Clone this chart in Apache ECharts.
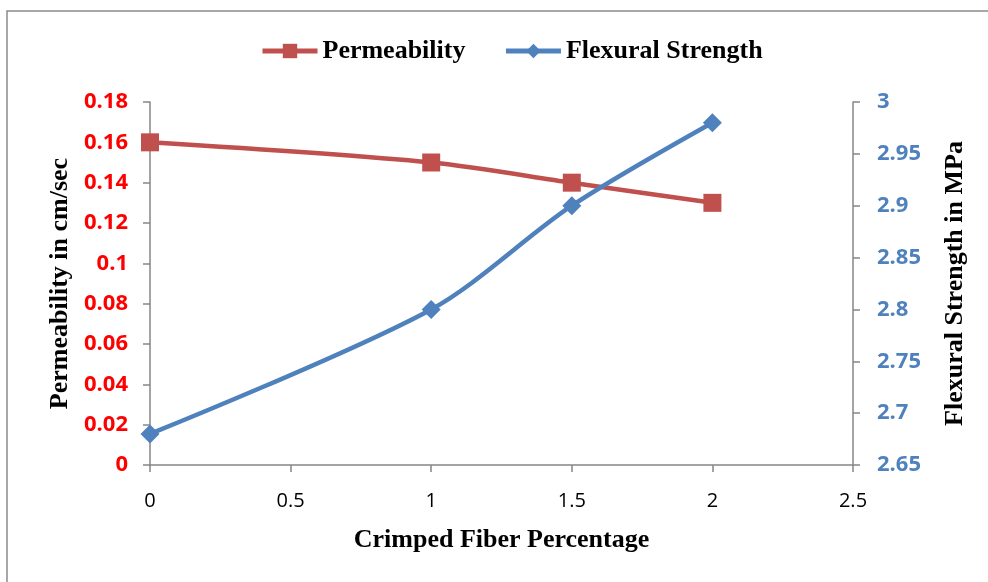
<!DOCTYPE html>
<html>
<head>
<meta charset="utf-8">
<script src="https://cdn.jsdelivr.net/npm/echarts@6/dist/echarts.min.js"></script>
<style>
  html, body { margin: 0; padding: 0; background: #fff; }
  #chart { width: 988px; height: 582px; }
</style>
</head>
<body>
<div id="chart"></div>
<script>
// fiber percentage (x) and the two measured series
const fiberPct = [0, 1, 1.5, 2];
const permeability = [0.16, 0.15, 0.14, 0.13];
const flexural = [2.68, 2.8, 2.9, 2.98];

const redColor = "#C0504D";
const blueColor = "#4F81BD";
const axisGray = "#868686";
const serif = "'Liberation Serif', 'Times New Roman', serif";
const sans = "'Open Sans', 'Noto Sans', sans-serif";

const chart = echarts.init(document.getElementById("chart"));

const option = {
  backgroundColor: "#fff",
  animation: false,
  graphic: [
    {
      type: "rect",
      shape: { x: 7, y: 11, width: 1000, height: 600 },
      style: { fill: "none", stroke: "#8a8a8a", lineWidth: 1.5 },
      silent: true
    }
  ],
  legend: {
    top: 33,
    left: 255,
    itemWidth: 55,
    itemHeight: 18,
    itemGap: 38,
    lineStyle: { width: 5 },
    textStyle: { fontFamily: serif, fontWeight: "bold", fontSize: 26, color: "#000" },
    data: ["Permeability", "Flexural Strength"]
  },
  grid: { left: 150, right: 135, top: 102, bottom: 117, containLabel: false },
  xAxis: {
    type: "value",
    min: 0,
    max: 2.5,
    interval: 0.5,
    name: "Crimped Fiber Percentage",
    nameLocation: "middle",
    nameGap: 62,
    nameTextStyle: { fontFamily: serif, fontWeight: "bold", fontSize: 26, color: "#000" },
    axisLine: { lineStyle: { color: axisGray, width: 1.5 } },
    axisTick: { show: true, length: 7, lineStyle: { color: axisGray, width: 1.5 } },
    axisLabel: { margin: 26, fontFamily: sans, fontSize: 20, color: "#000" },
    splitLine: { show: false }
  },
  yAxis: [
    {
      type: "value",
      min: 0,
      max: 0.18,
      interval: 0.02,
      name: "Permeability in cm/sec",
      nameLocation: "middle",
      nameGap: 75,
      nameTextStyle: { fontFamily: serif, fontWeight: "bold", fontSize: 26, color: "#000" },
      axisLine: { show: true, lineStyle: { color: axisGray, width: 1.5 } },
      axisTick: { show: true, length: 7, lineStyle: { color: axisGray, width: 1.5 } },
      axisLabel: { margin: 22, fontFamily: sans, fontWeight: "bold", fontSize: 22, color: "#FF0000" },
      splitLine: { show: false }
    },
    {
      type: "value",
      min: 2.65,
      max: 3,
      interval: 0.05,
      position: "right",
      name: "Flexural Strength in MPa",
      nameLocation: "middle",
      nameGap: 89,
      nameRotate: 90,
      nameTextStyle: { fontFamily: serif, fontWeight: "bold", fontSize: 26, color: "#000" },
      axisLine: { show: true, lineStyle: { color: axisGray, width: 1.5 } },
      axisTick: { show: true, length: 7, lineStyle: { color: axisGray, width: 1.5 } },
      axisLabel: { margin: 24, fontFamily: sans, fontWeight: "bold", fontSize: 22, color: blueColor },
      splitLine: { show: false }
    }
  ],
  series: [
    {
      name: "Permeability",
      type: "line",
      yAxisIndex: 0,
      smooth: 0.3,
      symbol: "rect",
      symbolSize: 18,
      lineStyle: { color: redColor, width: 4.5 },
      itemStyle: { color: redColor },
      data: fiberPct.map((x, i) => [x, permeability[i]])
    },
    {
      name: "Flexural Strength",
      type: "line",
      yAxisIndex: 1,
      smooth: 0.3,
      symbol: "diamond",
      symbolSize: 19,
      lineStyle: { color: blueColor, width: 4.5 },
      itemStyle: { color: blueColor },
      data: fiberPct.map((x, i) => [x, flexural[i]])
    }
  ]
};

chart.setOption(option);
</script>
</body>
</html>
